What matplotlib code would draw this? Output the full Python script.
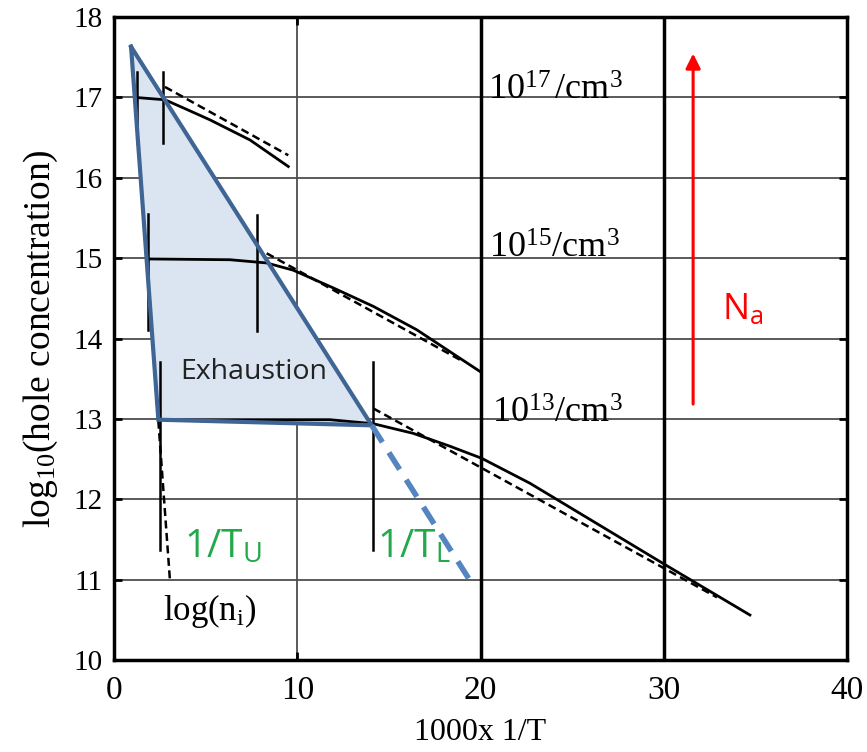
import matplotlib.pyplot as plt
import numpy as np

# intrinsic line log(ni)
x_ni = [0.93, 3.05]
y_ni = [17.63, 11.0]

# hole concentration curves (solid)
x_17 = [1.13, 2.78, 3.97, 5.24, 7.42, 9.51]
y_17 = [17.0, 16.97, 16.85, 16.72, 16.47, 16.14]
x_15 = [1.78, 6.33, 8.33, 9.78, 11.96, 14.15, 16.51, 19.97]
y_15 = [14.99, 14.98, 14.94, 14.85, 14.63, 14.40, 14.11, 13.59]
x_13 = [2.42, 11.78, 14.15, 16.33, 18.33, 20.06, 22.69, 24.51, 29.97, 34.70]
y_13 = [12.99, 12.99, 12.94, 12.82, 12.66, 12.51, 12.20, 11.95, 11.20, 10.56]

# freeze-out asymptotes (dashed)
xd_17 = [2.78, 9.51]
yd_17 = [17.13, 16.28]
xd_15 = [8.33, 19.0]
yd_15 = [15.06, 13.72]
xd_13 = [14.15, 32.9]
yd_13 = [13.13, 10.78]

# 1/T_U and 1/T_L markers: x, ymin, ymax
markers = [(1.24, 16.43, 17.32), (2.69, 16.43, 17.32),
           (1.88, 14.10, 15.55), (7.78, 14.09, 15.54),
           (2.51, 11.37, 13.71), (14.15, 11.37, 13.71)]

# exhaustion region
tri_x = [0.93, 2.42, 14.06]
tri_y = [17.63, 12.99, 12.92]
ext_x = [14.06, 19.42]
ext_y = [12.92, 10.99]

labels = ['$10^{17}\\,$/cm$^3$', '$10^{15}$/cm$^3$', '$10^{13}$/cm$^3$']
label_x = [20.4, 20.45, 20.65]
label_y = [16.97, 15.0, 12.95]

serif = 'Liberation Serif'
sans = 'Open Sans'
plt.rcParams['mathtext.fontset'] = 'custom'
plt.rcParams['mathtext.rm'] = serif
plt.rcParams['mathtext.it'] = serif + ':italic'
plt.rcParams['mathtext.sf'] = sans

fig = plt.figure(figsize=(8.67, 7.52), dpi=100)
ax = fig.add_axes([0.1315, 0.1223, 0.8455, 0.8551])
ax.set_xlim(0, 40)
ax.set_ylim(10, 18)

for yv in range(11, 18):
    ax.axhline(yv, color='#4d4d4d', lw=1.3, zorder=0)
ax.axvline(10, color='#4d4d4d', lw=1.3, zorder=0)
ax.axvline(20, color='black', lw=2.5, zorder=0)
ax.axvline(30, color='black', lw=2.5, zorder=0)

ax.fill(tri_x, tri_y, color='#dbe5f1', zorder=1, lw=0)

dash = (0, (3.2, 1.8))
ax.plot(x_ni, y_ni, color='black', lw=1.8, ls=dash, zorder=2)
for xs, ys in [(x_17, y_17), (x_15, y_15), (x_13, y_13)]:
    ax.plot(xs, ys, color='black', lw=2, zorder=2)
for xs, ys in [(xd_17, yd_17), (xd_15, yd_15), (xd_13, yd_13)]:
    ax.plot(xs, ys, color='black', lw=1.8, ls=dash, zorder=2)
for xm, y0, y1 in markers:
    ax.plot([xm, xm], [y0, y1], color='black', lw=1.8, zorder=2)

ax.plot(tri_x + tri_x[:1], tri_y + tri_y[:1], color='#3f6595', lw=3,
        zorder=3, solid_joinstyle='miter')
ax.plot(ext_x, ext_y, color='#5585c0', lw=4, ls=(0, (3.6, 2.2)), zorder=3)

ax.annotate('', xy=(31.6, 17.58), xytext=(31.6, 13.15),
            arrowprops=dict(arrowstyle='-|>', color='red', lw=2.2,
                            mutation_scale=22), zorder=4)

for s, xl, yl in zip(labels, label_x, label_y):
    ax.text(xl, yl, s, fontsize=26, family=serif, va='baseline', ha='left', zorder=4)
ax.text(2.67, 10.5, 'log(n$_\\mathrm{i}$)', fontsize=25, family=serif,
        ha='left', va='baseline')
ax.text(7.61, 13.58, 'Exhaustion', fontsize=20.5, family=sans, ha='center',
        va='center', color='#222222')
ax.text(3.8, 11.28, '1/T$_\\mathsf{U}$', fontsize=28, family=sans,
        color='#22a94b', ha='left', va='baseline')
ax.text(14.35, 11.28, '1/T$_\\mathsf{L}$', fontsize=28, family=sans,
        color='#22a94b', ha='left', va='baseline')
ax.text(33.2, 14.23, 'N$_\\mathsf{a}$', fontsize=26, family=sans,
        color='red', ha='left', va='baseline')

ax.set_xticks([0, 10, 20, 30, 40])
ax.set_yticks(range(10, 19))
ax.tick_params(direction='in', length=6, width=2, top=True, right=True)
ax.tick_params(axis='x', labelsize=24, pad=11)
ax.tick_params(axis='y', labelsize=21, pad=8)
for lab in ax.get_xticklabels() + ax.get_yticklabels():
    lab.set_family(serif)
for sp in ax.spines.values():
    sp.set_linewidth(2.5)

ax.set_xlabel('1000x 1/T', fontsize=23, family=serif, labelpad=9)
ax.set_ylabel('log$_{10}$(hole concentration)', fontsize=27, family=serif,
              labelpad=10)

fig.savefig('out.png', dpi=100)
